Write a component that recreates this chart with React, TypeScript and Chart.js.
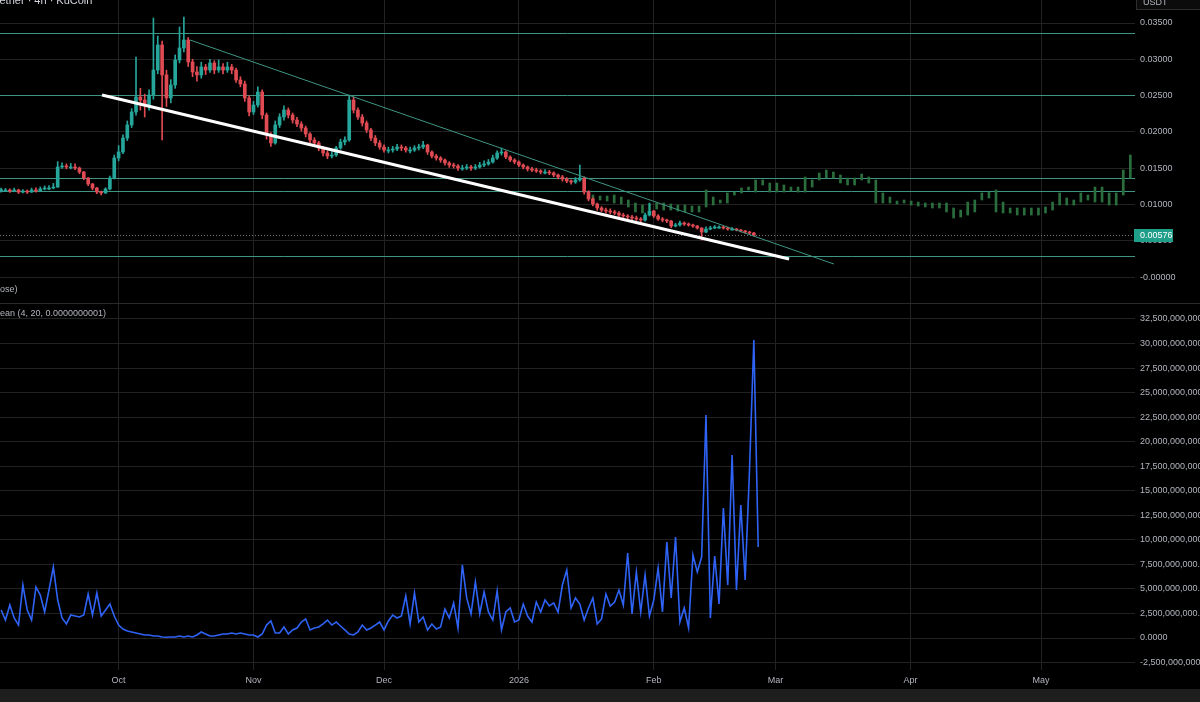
import React, { useEffect, useRef } from 'react';
import { Chart, registerables } from 'chart.js';

Chart.register(...registerables);

// ---- X axis (days since 2025-10-01) ----
const monthTickDays = [0, 31, 61, 92, 123, 151, 182, 212];
const monthLabels = ['Oct', 'Nov', 'Dec', '2026', 'Feb', 'Mar', 'Apr', 'May'];
const xMinDay = -27.26;
const xMaxDay = 233.6;

// ---- Daily candles (price in USDT), first candle on day -27 ----
const firstCandleDay = -27;
const firstOpen = 0.0119;
const closes = [
  0.01199, 0.01199, 0.01185, 0.01199, 0.01171, 0.01185, 0.01171, 0.01199, 0.01185, 0.01213,
  0.01226, 0.01226, 0.0124, 0.01516, 0.0153, 0.01516, 0.01516, 0.01502, 0.01447, 0.01364,
  0.01282, 0.01226, 0.01171, 0.01158, 0.01213, 0.01364, 0.0164, 0.01723, 0.01915, 0.02095,
  0.02274, 0.0248, 0.02439, 0.0237, 0.02508, 0.02852, 0.03197, 0.02784, 0.02467, 0.02646,
  0.0299, 0.03156, 0.03266, 0.02963, 0.02825, 0.02784, 0.02894, 0.02852, 0.02949, 0.02852,
  0.02894, 0.02852, 0.02894, 0.02852, 0.02715, 0.0266, 0.02467, 0.02274, 0.0237, 0.02549,
  0.02232, 0.01957, 0.01847, 0.02095, 0.02205, 0.02301, 0.02232, 0.02163, 0.02108, 0.02053,
  0.01971, 0.01888, 0.01847, 0.01778, 0.01709, 0.01667, 0.01681, 0.01778, 0.0186, 0.01888,
  0.02439, 0.02301, 0.02205, 0.02122, 0.02026, 0.01915, 0.01847, 0.01791, 0.0175, 0.0175,
  0.01764, 0.01791, 0.01778, 0.0175, 0.0175, 0.01778, 0.01791, 0.01819, 0.01723, 0.01667,
  0.0164, 0.01612, 0.01571, 0.01543, 0.0153, 0.01502, 0.01502, 0.01516, 0.01502, 0.01516,
  0.01543, 0.01557, 0.01585, 0.0164, 0.01709, 0.01723, 0.01654, 0.01612, 0.01585, 0.01543,
  0.01516, 0.01488, 0.01474, 0.01461, 0.01447, 0.01447, 0.01433, 0.01406, 0.01378, 0.0135,
  0.01323, 0.01309, 0.01337, 0.01364, 0.01171, 0.01075, 0.01006, 0.00951, 0.00923, 0.00909,
  0.00896, 0.00882, 0.00854, 0.00841, 0.00827, 0.00813, 0.00799, 0.00785, 0.00854, 0.00909,
  0.00841, 0.00799, 0.00785, 0.00772, 0.00703, 0.00717, 0.00744, 0.0073, 0.00717, 0.00703,
  0.00675, 0.0062, 0.00661, 0.00675, 0.00689, 0.00689, 0.00675, 0.00661, 0.00661, 0.00648,
  0.00634, 0.0062, 0.00606, 0.00576,
];
const highs = [
  0.01225, 0.0122, 0.01215, 0.01225, 0.0121, 0.01205, 0.012, 0.01225, 0.0123, 0.0124,
  0.01255, 0.0126, 0.0129, 0.0159, 0.01575, 0.0156, 0.01565, 0.0156, 0.01515, 0.01455,
  0.0137, 0.0129, 0.01235, 0.01185, 0.0123, 0.0139, 0.0168, 0.0181, 0.0196, 0.0215,
  0.0232, 0.03032, 0.026, 0.0252, 0.0258, 0.03569, 0.0332, 0.0325, 0.0285, 0.0272,
  0.0306, 0.03445, 0.03583, 0.033, 0.03, 0.029, 0.0296, 0.0293, 0.03, 0.0298,
  0.0299, 0.0294, 0.0296, 0.0293, 0.0288, 0.0276, 0.027, 0.025, 0.0242, 0.0262,
  0.0258, 0.0226, 0.0199, 0.0215, 0.0225, 0.0236, 0.0233, 0.0226, 0.022, 0.0214,
  0.0208, 0.0199, 0.0192, 0.0187, 0.018, 0.0174, 0.0173, 0.018, 0.019, 0.0193,
  0.02508, 0.0248, 0.0233, 0.0224, 0.0215, 0.0205, 0.0195, 0.0188, 0.0182, 0.0179,
  0.018, 0.0183, 0.0182, 0.018, 0.0179, 0.0181, 0.0183, 0.0187, 0.0183, 0.0174,
  0.0169, 0.0166, 0.0163, 0.0159, 0.0157, 0.0155, 0.0154, 0.0155, 0.0154, 0.0155,
  0.0158, 0.016, 0.0162, 0.0168, 0.0174, 0.01778, 0.0174, 0.0167, 0.0163, 0.016,
  0.0156, 0.0153, 0.0151, 0.015, 0.0148, 0.0148, 0.0147, 0.0145, 0.0142, 0.014,
  0.0137, 0.0134, 0.0137, 0.01543, 0.0138, 0.0119, 0.0109, 0.0102, 0.0097, 0.0095,
  0.0094, 0.0092, 0.009, 0.0088, 0.0086, 0.0085, 0.0084, 0.0082, 0.0088, 0.0102,
  0.0092, 0.0086, 0.0082, 0.008, 0.0078, 0.0074, 0.0077, 0.0076, 0.00745, 0.0073,
  0.0071, 0.0068, 0.0069, 0.007, 0.0071, 0.00705, 0.007, 0.00685, 0.0068, 0.0067,
  0.00655, 0.00645, 0.0063, 0.00615,
];
const lows = [
  0.0117, 0.0118, 0.01165, 0.01175, 0.0115, 0.0116, 0.0115, 0.01165, 0.0117, 0.0118,
  0.012, 0.01205, 0.01215, 0.01235, 0.01495, 0.0149, 0.0149, 0.0148, 0.01425, 0.0134,
  0.0126, 0.012, 0.0115, 0.0113, 0.0115, 0.012, 0.0135, 0.016, 0.017, 0.0188,
  0.0206, 0.0223, 0.023, 0.02205, 0.023, 0.0245, 0.028, 0.01888, 0.0235, 0.024,
  0.026, 0.0295, 0.031, 0.029, 0.0276, 0.027, 0.0274, 0.0279, 0.0282, 0.028,
  0.0282, 0.028, 0.0282, 0.028, 0.0268, 0.0262, 0.0242, 0.0222, 0.0224, 0.0234,
  0.0218, 0.019, 0.018, 0.0183, 0.0206, 0.0216, 0.0219, 0.0212, 0.0207, 0.0201,
  0.0193, 0.0185, 0.018, 0.0174, 0.0167, 0.0163, 0.0164, 0.0166, 0.0176, 0.0182,
  0.0187, 0.0226, 0.0217, 0.0208, 0.0199, 0.0188, 0.0181, 0.0176, 0.0172, 0.0171,
  0.0172, 0.0174, 0.0174, 0.0172, 0.0171, 0.0173, 0.0175, 0.0177, 0.0169, 0.0164,
  0.0161, 0.0158, 0.0154, 0.0151, 0.015, 0.0147, 0.0147, 0.0148, 0.0147, 0.0148,
  0.015, 0.0152, 0.0154, 0.0157, 0.0162, 0.0168, 0.0163, 0.0159, 0.0156, 0.0152,
  0.0149, 0.0146, 0.0145, 0.0144, 0.0142, 0.0142, 0.0141, 0.0138, 0.0135, 0.0132,
  0.013, 0.0128, 0.0129, 0.0132, 0.0114, 0.0105, 0.0098, 0.0092, 0.009, 0.0088,
  0.0087, 0.0086, 0.0083, 0.0082, 0.008, 0.0079, 0.0078, 0.0076, 0.0077, 0.0084,
  0.0082, 0.0078, 0.0076, 0.0075, 0.0068, 0.0069, 0.007, 0.0071, 0.007, 0.00685,
  0.0066, 0.0051, 0.0061, 0.0065, 0.00665, 0.0067, 0.0066, 0.00645, 0.00645, 0.00635,
  0.0062, 0.00605, 0.0059, 0.00565,
];

// ---- Projected (ghost) bars, green ----
const ghostStartDay = 109.03;
const ghostStepDays = 1.625;
const ghostHighs = [
  0.0113, 0.01116, 0.01116, 0.0113, 0.01102, 0.01061, 0.0102, 0.00992, 0.01006, 0.0102,
  0.0102, 0.01006, 0.00992, 0.00992, 0.00978, 0.00978, 0.01199, 0.01102, 0.01061, 0.01158,
  0.01171, 0.01226, 0.0124, 0.01337, 0.01337, 0.01295, 0.01295, 0.01268, 0.0124, 0.0124,
  0.01378, 0.01337, 0.01433, 0.01474, 0.01447, 0.01406, 0.01364, 0.01364, 0.01419, 0.01378,
  0.01337, 0.01158, 0.01102, 0.01047, 0.01061, 0.01047, 0.01033, 0.0102, 0.0102, 0.0102,
  0.0102, 0.00951, 0.00923, 0.01033, 0.01061, 0.01158, 0.01171, 0.01199, 0.01033, 0.00951,
  0.00951, 0.00951, 0.00951, 0.00951, 0.00965, 0.01033, 0.01158, 0.01089, 0.01061, 0.01158,
  0.0113, 0.0124, 0.0124, 0.01158, 0.01158, 0.01474, 0.01681,
];
const ghostLows = [
  0.01075, 0.01061, 0.01047, 0.0102, 0.01006, 0.00965, 0.00896, 0.00882, 0.00923, 0.00937,
  0.00923, 0.00923, 0.00909, 0.00896, 0.00896, 0.00896, 0.00965, 0.00992, 0.0102, 0.0102,
  0.0113, 0.01158, 0.01199, 0.01171, 0.01268, 0.01171, 0.01171, 0.01171, 0.01185, 0.01171,
  0.01171, 0.0124, 0.01337, 0.01364, 0.01364, 0.01295, 0.01268, 0.01268, 0.01337, 0.01295,
  0.0102, 0.0102, 0.0102, 0.01006, 0.0102, 0.00992, 0.00978, 0.00965, 0.00951, 0.00951,
  0.00896, 0.00813, 0.00827, 0.00854, 0.00896, 0.01061, 0.01089, 0.00896, 0.00882, 0.00882,
  0.00854, 0.00854, 0.00854, 0.00854, 0.00882, 0.00923, 0.00992, 0.00992, 0.00992, 0.01033,
  0.01061, 0.01033, 0.01033, 0.00992, 0.00992, 0.0113, 0.01364,
];

// ---- Drawn levels and trend lines ----
const levelPrices = [0.03362, 0.02508, 0.01362, 0.01183, 0.00289];
const supportDays = [-3.82, 154.1];
const supportPrices = [0.02508, 0.00248];
const resistDays = [16.4, 164.4];
const resistPrices = [0.03266, 0.00179];

// ---- Lower pane oscillator (billions), first point on day -27 ----
const oscFirstDay = -27;
const oscBillions = [
  2.85, 1.83, 3.36, 2.04, 1.32, 5.4, 2.85, 1.83, 5.2, 4.38,
  2.65, 4.89, 7.23, 3.87, 2.04, 1.43, 2.34, 2.24, 2.14, 2.34,
  4.48, 2.34, 4.58, 2.24, 2.85, 3.46, 2.24, 1.32, 0.92, 0.71,
  0.61, 0.51, 0.41, 0.31, 0.31, 0.2, 0.2, 0.1, 0.08, 0.1,
  0.1, 0.2, 0.1, 0.2, 0.1, 0.31, 0.61, 0.41, 0.2, 0.2,
  0.31, 0.41, 0.41, 0.51, 0.41, 0.51, 0.41, 0.31, 0.31, 0.1,
  0.41, 1.32, 1.73, 0.51, 0.51, 1.12, 0.41, 0.82, 1.02, 1.63,
  1.94, 0.82, 1.02, 1.12, 1.43, 1.83, 1.32, 1.63, 1.22, 0.82,
  0.41, 0.31, 0.61, 1.32, 0.82, 1.02, 1.32, 1.63, 0.82, 1.73,
  2.34, 2.04, 2.24, 4.28, 1.43, 4.58, 1.63, 2.14, 0.82, 1.43,
  0.92, 1.12, 2.95, 2.04, 3.57, 1.02, 7.44, 4.08, 2.45, 5.71,
  2.45, 4.69, 2.65, 1.83, 4.79, 0.82, 2.65, 3.06, 1.63, 1.83,
  3.46, 2.24, 1.63, 3.67, 2.65, 3.87, 3.26, 3.57, 2.65, 5.4,
  6.93, 3.06, 4.08, 3.46, 1.83, 3.06, 4.08, 1.43, 1.94, 4.48,
  3.26, 3.67, 4.89, 3.36, 8.66, 2.45, 6.72, 2.65, 6.42, 2.24,
  3.87, 7.13, 2.65, 9.78, 4.08, 10.29, 1.63, 3.06, 1.02, 8.46,
  6.72, 8.25, 22.72, 2.04, 8.35, 3.46, 13.24, 5.4, 18.64, 4.89,
  13.55, 5.91, 17.12, 30.36, 9.27,
];

// ---- Axis ticks ----
const priceTicks = [0, 0.005, 0.01, 0.015, 0.02, 0.025, 0.03, 0.035];
const oscTicksB = [-2.5, 0, 2.5, 5, 7.5, 10, 12.5, 15, 17.5, 20, 22.5, 25, 27.5, 30, 32.5];

const FONT = '"Liberation Sans", Arial, sans-serif';
const TEXT = '#b2b5be';
const GRID = '#222222';
const UP = '#26a69a';
const DOWN = '#e04a52';
const LEVEL = '#3f9584';

const zeroPad = (s: any) => {
  s.paddingTop = 0;
  s.paddingBottom = 0;
  s.paddingLeft = 0;
  s.paddingRight = 0;
};

export default function App() {
  const ref = useRef<HTMLCanvasElement | null>(null);

  useEffect(() => {
    const canvas = ref.current;
    if (!canvas) return;

    const opens = closes.map((c, i) => (i === 0 ? firstOpen : closes[i - 1]));
    const candleColors = closes.map((c, i) => (c >= opens[i] ? UP : DOWN));
    const wickData = closes.map((c, i) => ({ x: firstCandleDay + i, y: [lows[i], highs[i]] }));
    const bodyData = closes.map((c, i) => ({ x: firstCandleDay + i, y: [opens[i], c] }));
    const ghostData = ghostHighs.map((h, i) => ({ x: ghostStartDay + i * ghostStepDays, y: [ghostLows[i], h] }));
    const oscData = oscBillions.map((v, i) => ({ x: oscFirstDay + i, y: v }));
    const supportData = supportDays.map((d, i) => ({ x: d, y: supportPrices[i] }));
    const resistData = resistDays.map((d, i) => ({ x: d, y: resistPrices[i] }));
    const lastClose = closes[closes.length - 1];

    const overlay = {
      id: 'tvOverlay',
      beforeDraw(chart: any) {
        const { ctx, width, height } = chart;
        ctx.save();
        ctx.fillStyle = '#000000';
        ctx.fillRect(0, 0, width, height);
        ctx.restore();
      },
      beforeDatasetsDraw(chart: any) {
        const { ctx, chartArea } = chart;
        const ys = chart.scales.yTop;
        ctx.save();
        ctx.strokeStyle = LEVEL;
        ctx.lineWidth = 1;
        levelPrices.forEach((p) => {
          const py = Math.round(ys.getPixelForValue(p)) + 0.5;
          ctx.beginPath();
          ctx.moveTo(chartArea.left, py);
          ctx.lineTo(chartArea.right, py);
          ctx.stroke();
        });
        const lp = Math.round(ys.getPixelForValue(lastClose)) + 0.5;
        ctx.setLineDash([1, 2]);
        ctx.strokeStyle = 'rgba(170,170,170,0.7)';
        ctx.beginPath();
        ctx.moveTo(chartArea.left, lp);
        ctx.lineTo(chartArea.right, lp);
        ctx.stroke();
        ctx.restore();
      },
      afterDraw(chart: any) {
        const { ctx, width, height, chartArea } = chart;
        const ys = chart.scales.yTop;
        ctx.save();
        // pane separator
        const sep = Math.round(ys.bottom) + 0.5;
        ctx.strokeStyle = '#2a2a2a';
        ctx.lineWidth = 1;
        ctx.beginPath();
        ctx.moveTo(0, sep);
        ctx.lineTo(width, sep);
        ctx.stroke();
        // bottom bar
        ctx.fillStyle = '#1e1e1e';
        ctx.fillRect(0, 689, width, height - 689);
        // last price tag
        const ly = ys.getPixelForValue(lastClose);
        ctx.fillStyle = '#1f9e89';
        ctx.fillRect(chartArea.right - 1, Math.round(ly) - 6, 39, 13);
        ctx.fillStyle = '#ffffff';
        ctx.font = `9px ${FONT}`;
        ctx.textBaseline = 'middle';
        ctx.textAlign = 'left';
        ctx.fillText(lastClose.toFixed(5), chartArea.right + 5, Math.round(ly) + 0.5);
        // USDT box
        ctx.fillStyle = '#0c0c0c';
        ctx.fillRect(chartArea.right + 1, -4, width - chartArea.right, 14);
        ctx.strokeStyle = '#2e2e2e';
        ctx.strokeRect(chartArea.right + 1.5, -4.5, width - chartArea.right, 14);
        ctx.fillStyle = TEXT;
        ctx.fillText('USDT', chartArea.right + 8, 3);
        // legends
        ctx.fillStyle = '#d1d4dc';
        ctx.font = `11px ${FONT}`;
        ctx.textBaseline = 'alphabetic';
        ctx.fillText('Tether \u00b7 4h \u00b7 KuCoin', -6, 4);
        ctx.fillStyle = TEXT;
        ctx.font = `9px ${FONT}`;
        ctx.textBaseline = 'middle';
        const w1 = ctx.measureText('(cl').width;
        ctx.fillText('(close)', -w1, 290);
        const w2 = ctx.measureText('M').width;
        ctx.fillText('Mean (4, 20, 0.0000000001)', -w2, 314);
        ctx.restore();
      },
    };

    const chart = new Chart(canvas, {
      type: 'bar',
      data: {
        datasets: [
          {
            type: 'line',
            label: 'osc',
            data: oscData,
            xAxisID: 'x',
            yAxisID: 'yBot',
            borderColor: '#2f63f5',
            borderWidth: 1.6,
            pointRadius: 0,
            tension: 0,
            order: 0,
          } as any,
          {
            type: 'line',
            label: 'support',
            data: supportData,
            xAxisID: 'x',
            yAxisID: 'yTop',
            borderColor: '#ffffff',
            borderWidth: 3,
            pointRadius: 0,
            order: 1,
          },
          {
            type: 'line',
            label: 'resist',
            data: resistData,
            xAxisID: 'x',
            yAxisID: 'yTop',
            borderColor: LEVEL,
            borderWidth: 1,
            pointRadius: 0,
            order: 2,
          },
          {
            type: 'bar',
            label: 'bodies',
            data: bodyData as any,
            xAxisID: 'x',
            yAxisID: 'yTop',
            backgroundColor: candleColors,
            barThickness: 3,
            minBarLength: 1,
            grouped: false,
            order: 3,
          } as any,
          {
            type: 'bar',
            label: 'wicks',
            data: wickData as any,
            xAxisID: 'x',
            yAxisID: 'yTop',
            backgroundColor: candleColors,
            barThickness: 1,
            grouped: false,
            order: 4,
          } as any,
          {
            type: 'bar',
            label: 'ghost',
            data: ghostData as any,
            xAxisID: 'x',
            yAxisID: 'yTop',
            backgroundColor: '#2b6e3e',
            barThickness: 2,
            minBarLength: 1,
            grouped: false,
            order: 5,
          } as any,
        ],
      },
      options: {
        responsive: false,
        animation: false,
        events: [],
        devicePixelRatio: 1,
        layout: { padding: 0 },
        plugins: { legend: { display: false }, tooltip: { enabled: false } },
        scales: {
          x: {
            type: 'linear',
            position: 'bottom',
            min: xMinDay,
            max: xMaxDay,
            offset: false,
            grid: { color: GRID, drawTicks: false, offset: false },
            border: { display: false },
            afterBuildTicks: (s: any) => {
              s.ticks = monthTickDays.map((v) => ({ value: v }));
            },
            afterFit: (s: any) => {
              s.height = 32;
              zeroPad(s);
            },
            ticks: {
              autoSkip: false,
              maxRotation: 0,
              padding: 5,
              color: TEXT,
              font: { family: FONT, size: 9 },
              callback: (_v: any, i: number) => monthLabels[i],
            },
          },
          yTop: {
            type: 'linear',
            position: 'right',
            stack: 'panes',
            stackWeight: 303,
            weight: 1,
            min: -0.00358,
            max: 0.03817,
            grid: { color: GRID, drawTicks: false },
            border: { display: false },
            afterBuildTicks: (s: any) => {
              s.ticks = priceTicks.map((v) => ({ value: v }));
            },
            afterFit: (s: any) => {
              s.width = 65;
              zeroPad(s);
            },
            ticks: {
              autoSkip: false,
              padding: 5,
              color: TEXT,
              font: { family: FONT, size: 9 },
              callback: (v: any) => (Number(v) === 0 ? '-0.00000' : Number(v).toFixed(5)),
            },
          },
          yBot: {
            type: 'linear',
            position: 'right',
            stack: 'panes',
            stackWeight: 367,
            weight: 2,
            min: -3.26,
            max: 34.13,
            grid: { color: GRID, drawTicks: false },
            border: { display: false },
            afterBuildTicks: (s: any) => {
              s.ticks = oscTicksB.map((v) => ({ value: v }));
            },
            afterFit: (s: any) => {
              s.width = 65;
              zeroPad(s);
            },
            ticks: {
              autoSkip: false,
              padding: 5,
              color: TEXT,
              font: { family: FONT, size: 9 },
              callback: (v: any) =>
                Number(v) === 0
                  ? '0.0000'
                  : Math.round(Number(v) * 1e9).toLocaleString('en-US') + '.0000',
            },
          },
        },
      } as any,
      plugins: [overlay],
    });

    return () => chart.destroy();
  }, []);

  return (
    <div style={{ position: 'fixed', left: 0, top: 0, width: 1200, height: 702, background: '#000' }}>
      <canvas ref={ref} width={1200} height={702} style={{ display: 'block', width: 1200, height: 702 }} />
    </div>
  );
}
